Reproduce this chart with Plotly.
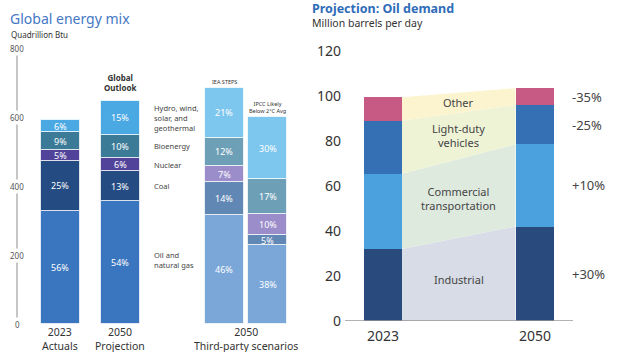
import plotly.graph_objects as go

W, H = 624, 352
FONT = "Noto Sans"

# ---------------- Left panel data: Global energy mix ----------------
mix_bars = ["2023 Actuals", "2050 Projection", "IEA STEPS", "IPCC Likely Below 2°C Avg"]
mix_totals = [585, 660, 684, 600]  # quadrillion Btu
mix_sources = ["Oil and natural gas", "Coal", "Nuclear", "Bioenergy", "Hydro, wind, solar, and geothermal"]
pct_oil_gas = [56, 54, 46, 38]
pct_coal = [25, 13, 14, 5]
pct_nuclear = [5, 6, 7, 10]
pct_bio = [9, 10, 12, 17]
pct_renew = [6, 15, 21, 30]
mix_pcts = [pct_oil_gas, pct_coal, pct_nuclear, pct_bio, pct_renew]
mix_ticks = [0, 200, 400, 600, 800]

# ---------------- Right panel data: Oil demand ----------------
oil_years = ["2023", "2050"]
oil_sectors = ["Industrial", "Commercial transportation", "Light-duty vehicles", "Other"]
industrial = [32, 42]
commercial = [33.5, 36.5]
light_duty = [23.5, 17.5]
other = [10.5, 7.5]
oil_values = [industrial, commercial, light_duty, other]
oil_changes = ["+30%", "+10%", "-25%", "-35%"]
oil_ticks = [0, 20, 40, 60, 80, 100, 120]

# ---------------- styles / positions ----------------
mix_x = [60, 120, 224, 267.5]          # bar centres (pixel-like units on x axis)
mix_w = 39
dark_cols = ["#3a76bf", "#244b82", "#52439a", "#3b7b98", "#4aa8e3"]
light_cols = ["#7aa7d8", "#6187b5", "#9a8dca", "#6d9fb7", "#7dc7ee"]

oil_x = [383, 534.5]
oil_w = 38
oil_cols = ["#294a7c", "#4aa1dd", "#3570b4", "#c75a84"]
band_cols = ["#d8dce6", "#dfeadf", "#eef3d6", "#fcf4cf"]
band_text = ["Industrial", "Commercial<br>transportation", "Light-duty<br>vehicles", "Other"]

fig = go.Figure()
ann = []
def A(**kw):
    d = dict(showarrow=False, font=dict(family=FONT, size=10, color="#333"))
    f = kw.pop("font", {})
    d["font"].update(f)
    d.update(kw)
    ann.append(d)

# Left stacked bars
cum = [0, 0, 0, 0]
for si, (name, pcts) in enumerate(zip(mix_sources, mix_pcts)):
    vals = [p * t / 100 for p, t in zip(pcts, mix_totals)]
    fig.add_trace(go.Bar(
        x=mix_x, y=vals, base=cum[:], width=mix_w, name=name,
        marker=dict(color=[dark_cols[si]] * 2 + [light_cols[si]] * 2,
                    line=dict(color="rgba(255,255,255,0.7)", width=1)),
        xaxis="x", yaxis="y", showlegend=False, hoverinfo="skip"))
    for xc, b, v, p in zip(mix_x, cum, vals, pcts):
        A(text=f"{p}%", xref="x", yref="y", x=xc, y=b + v / 2,
          font=dict(size=9, color="white"))
    cum = [c + v for c, v in zip(cum, vals)]

# Right bands between bars
oil_cum = [[0, 0]]
for vals in oil_values:
    prev = oil_cum[-1]
    oil_cum.append([prev[0] + vals[0], prev[1] + vals[1]])
xl = oil_x[0] + oil_w / 2
xr = oil_x[1] - oil_w / 2
for i in range(len(oil_values)):
    lo, hi = oil_cum[i], oil_cum[i + 1]
    fig.add_trace(go.Scatter(
        x=[xl, xr, xr, xl, xl], y=[lo[0], lo[1], hi[1], hi[0], lo[0]],
        fill="toself", fillcolor=band_cols[i], mode="lines",
        line=dict(width=0, color=band_cols[i]),
        xaxis="x", yaxis="y2", showlegend=False, hoverinfo="skip"))

# Right stacked bars
for i, vals in enumerate(oil_values):
    fig.add_trace(go.Bar(
        x=oil_x, y=vals, base=oil_cum[i], width=oil_w, name=oil_sectors[i],
        marker=dict(color=oil_cols[i], line=dict(width=0)),
        xaxis="x", yaxis="y2", showlegend=False, hoverinfo="skip"))

# Titles
A(text="Global energy mix", xref="paper", yref="paper", x=8 / W, y=1 - 18 / H,
  xanchor="left", yanchor="middle", font=dict(size=14, color="#4477c4"))
A(text="Quadrillion Btu", xref="paper", yref="paper", x=9 / W, y=1 - 35 / H,
  xanchor="left", yanchor="middle", font=dict(size=8, color="#333"))
A(text="<b>Projection: Oil demand</b>", xref="paper", yref="paper", x=311 / W, y=1,
  xanchor="left", yanchor="top", borderpad=0, yshift=1, font=dict(size=12.5, color="#2f6cb8"))
A(text="Million barrels per day", xref="paper", yref="paper", x=311 / W, y=1 - 31 / H,
  xanchor="left", yanchor="bottom", borderpad=0, font=dict(size=10.5, color="#333"))

# Left axis tick labels on the line
for t in mix_ticks:
    A(text=str(t), xref="x", yref="y", x=17, y=t, xanchor="center", yanchor="middle",
      bgcolor="white", borderpad=1, font=dict(size=8, color="#555"))

# Bar headers
A(text="<b>Global<br>Outlook</b>", xref="x", yref="y", x=mix_x[1], y=mix_totals[1],
  yanchor="bottom", yshift=1, font=dict(size=8, color="#333"))
A(text="IEA STEPS", xref="x", yref="y", x=mix_x[2], y=mix_totals[2],
  yanchor="bottom", yshift=0, font=dict(size=5.5, color="#333"))
A(text="IPCC Likely<br>Below 2°C Avg", xref="x", yref="y", x=mix_x[3], y=mix_totals[3],
  yanchor="bottom", yshift=0, font=dict(size=5.5, color="#333"))

# Source labels, aligned with 2050 projection segments
c = 0
for name, pcts in zip(mix_sources, mix_pcts):
    v = pcts[1] * mix_totals[1] / 100
    label = {"Oil and natural gas": "Oil and<br>natural gas",
             "Hydro, wind, solar, and geothermal": "Hydro, wind,<br>solar, and<br>geothermal"}.get(name, name)
    A(text=label, xref="x", yref="y", x=152, y=c + v / 2 + (6 if name == "Oil and natural gas" else 0),
      xanchor="left", yanchor="middle", align="left", font=dict(size=7.5, color="#444"))
    c += v

# Left bottom labels
for xc, txt in [(mix_x[0], "2023<br>Actuals"), (mix_x[1], "2050<br>Projection"),
                ((mix_x[2] + mix_x[3]) / 2, "2050<br>Third-party scenarios")]:
    A(text=txt, xref="x", yref="paper", x=xc, y=1 - 339 / H, yanchor="middle",
      font=dict(size=10.5, color="#333"))

# Right band labels
for i, txt in enumerate(band_text):
    m0 = (oil_cum[i][0] + oil_cum[i + 1][0]) / 2
    m1 = (oil_cum[i][1] + oil_cum[i + 1][1]) / 2
    A(text=txt, xref="x", yref="y2", x=(xl + xr) / 2, y=(m0 + m1) / 2,
      font=dict(size=11, color="#444"))

# Right change labels
for i, txt in enumerate(oil_changes):
    m1 = (oil_cum[i][1] + oil_cum[i + 1][1]) / 2
    A(text=txt, xref="x", yref="y2", x=570, y=m1, xanchor="left",
      font=dict(size=13, color="#444"))

# Right x labels
for xc, txt in zip(oil_x, oil_years):
    A(text=txt, xref="x", yref="paper", x=xc, y=1 - 335 / H, yanchor="middle",
      font=dict(size=14, color="#333"))

shapes = [
    dict(type="line", xref="x", yref="y", x0=17, x1=17, y0=2, y1=795,
         line=dict(color="#b3b3b3", width=1.5), layer="below"),
    dict(type="line", xref="x", yref="y2", x0=345, x1=573, y0=0, y1=0,
         line=dict(color="#999", width=1.5)),
]

fig.update_layout(
    template="none",
    width=W, height=H, margin=dict(l=0, r=0, t=0, b=0, autoexpand=False),
    paper_bgcolor="white", plot_bgcolor="rgba(0,0,0,0)",
    barmode="overlay", bargap=0,
    font=dict(family=FONT),
    xaxis=dict(domain=[0, 1], range=[0, W], visible=False, fixedrange=True, automargin=False),
    yaxis=dict(domain=[28 / H, 304 / H], range=[0, 800], visible=False, anchor="x", automargin=False),
    yaxis2=dict(domain=[31 / H, 301 / H], range=[0, 120], anchor="free", position=345 / W,
                tickvals=oil_ticks, showgrid=False, zeroline=False, showline=False,
                ticks="", ticklabelstandoff=4, automargin=False,
                tickfont=dict(size=14, color="#333", family=FONT)),
    annotations=ann, shapes=shapes,
)

fig.write_html("out.html")
